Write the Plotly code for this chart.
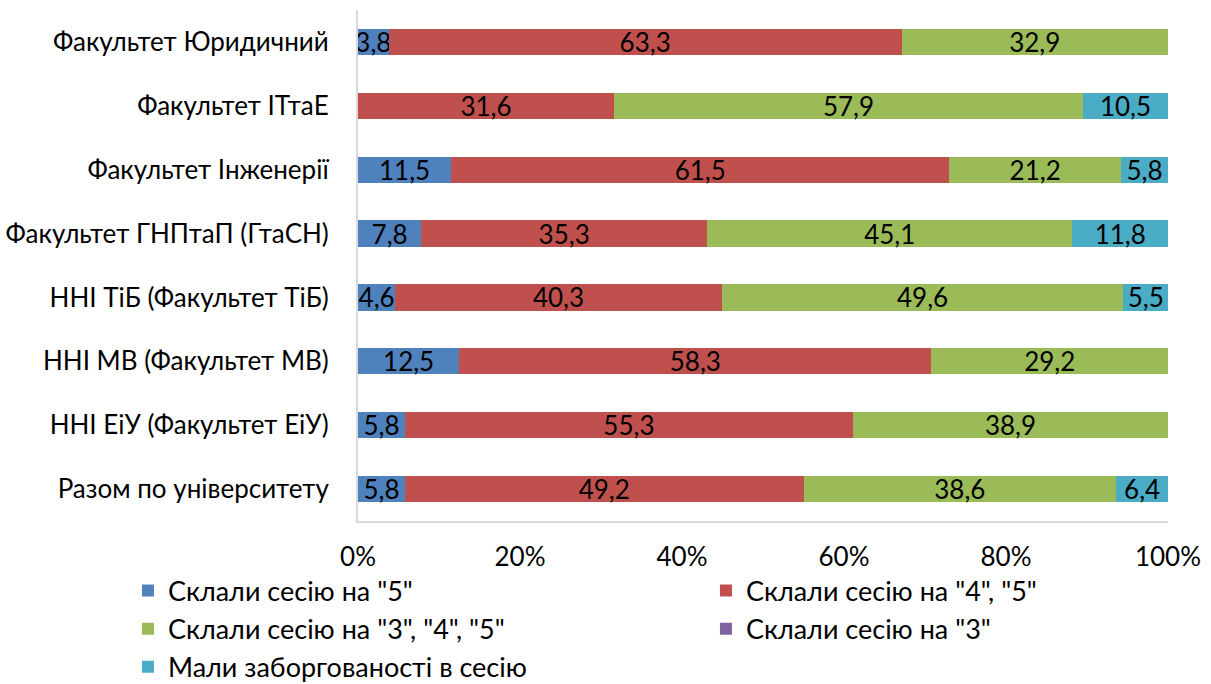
import plotly.graph_objects as go

categories = [
    "Факультет Юридичний",
    "Факультет ІТтаЕ",
    "Факультет Інженерії",
    "Факультет ГНПтаП (ГтаСН)",
    "ННІ ТіБ (Факультет ТіБ)",
    "ННІ МВ (Факультет МВ)",
    "ННІ ЕіУ (Факультет ЕіУ)",
    "Разом по університету",
]

grade_5 = [3.8, 0, 11.5, 7.8, 4.6, 12.5, 5.8, 5.8]
grade_45 = [63.3, 31.6, 61.5, 35.3, 40.3, 58.3, 55.3, 49.2]
grade_345 = [32.9, 57.9, 21.2, 45.1, 49.6, 29.2, 38.9, 38.6]
grade_3 = [0, 0, 0, 0, 0, 0, 0, 0]
debts = [0, 10.5, 5.8, 11.8, 5.5, 0, 0, 6.4]

x_ticks = [0, 20, 40, 60, 80, 100]
x_tick_labels = ["0%", "20%", "40%", "60%", "80%", "100%"]

series = [
    ('Склали сесію на "5"', grade_5, "#4F81BD"),
    ('Склали сесію на "4", "5"', grade_45, "#C0504D"),
    ('Склали сесію на "3", "4", "5"', grade_345, "#9BBB59"),
    ('Склали сесію на "3"', grade_3, "#8064A2"),
    ("Мали заборгованості в сесію", debts, "#4BACC6"),
]

FONT = "Lato, Calibri, Carlito, sans-serif"
SIZE = 26

fig = go.Figure()
for name, vals, color in series:
    # zero segments get no label, decimal comma as in the source
    labels = [f"{v:.1f}".replace(".", ",") if v > 0 else "" for v in vals]
    fig.add_trace(
        go.Bar(
            y=categories,
            x=vals,
            name=name,
            orientation="h",
            marker=dict(color=color, line=dict(width=0)),
            text=labels,
            textposition="inside",
            insidetextanchor="middle",
            constraintext="none",
            textangle=0,
            textfont=dict(family=FONT, size=SIZE, color="#000000"),
            cliponaxis=False,
            hoverinfo="skip",
        )
    )

fig.update_layout(
    barmode="stack",
    bargap=0.59,
    width=1211,
    height=684,
    margin=dict(l=358, r=43, t=10, b=163, autoexpand=False),
    paper_bgcolor="white",
    plot_bgcolor="white",
    font=dict(family=FONT, size=SIZE, color="#000000"),
    showlegend=True,
    legend=dict(
        orientation="h",
        x=-0.284,
        xanchor="left",
        y=-0.089,
        yanchor="top",
        entrywidth=533,
        entrywidthmode="pixels",
        traceorder="normal",
        font=dict(family=FONT, size=27, color="#000000"),
        itemclick=False,
    ),
)

fig.update_xaxes(
    range=[0, 100],
    tickvals=x_ticks,
    ticktext=x_tick_labels,
    showgrid=False,
    zeroline=False,
    showline=True,
    linecolor="#D9D9D9",
    linewidth=2,
    ticks="",
    ticklabelstandoff=12,
    fixedrange=True,
)
fig.update_yaxes(
    autorange="reversed",
    showgrid=False,
    showline=True,
    linecolor="#D9D9D9",
    linewidth=2,
    ticks="",
    ticklabelstandoff=22,
    fixedrange=True,
)

# drop the default body margin so the figure sits at the window's corner
fig.write_html(
    "out.html",
    config={"displayModeBar": False},
    post_script="document.body.style.margin='0';",
)
